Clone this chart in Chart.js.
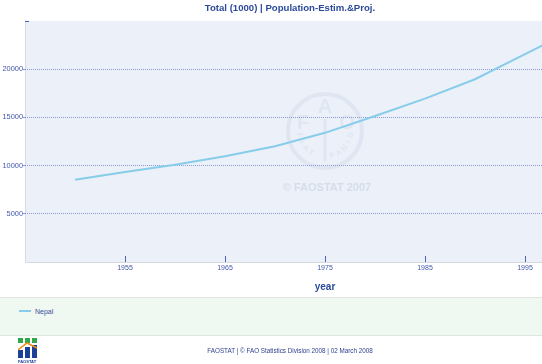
<!DOCTYPE html>
<html>
<head>
<meta charset="utf-8">
<script src="https://cdn.jsdelivr.net/npm/chart.js@4/dist/chart.umd.min.js"></script>
<style>
  body { margin: 0; background: #fff; font-family: "Liberation Sans", Arial, sans-serif; }
  #wrap { position: relative; width: 542px; height: 364px; overflow: hidden; }
  #plot { position: absolute; left: 0; top: 0; width: 625px; height: 297px; }
  #title { position: absolute; left: 0; top: 2px; width: 580px; text-align: center;
    font-size: 9.6px; font-weight: bold; color: #2b4a9c; }
  #legend { position: absolute; left: 0; top: 297px; width: 542px; height: 37px;
    background: #eff8f1; border-top: 1px solid #dfe5e0; border-bottom: 1px solid #dfe5e0; }
  #legend .item { position: absolute; left: 19px; top: 10px; font-size: 7px; color: #3a4fa0; }
  #legend .swatch { display: inline-block; width: 12px; height: 2px; background: #87cdea;
    vertical-align: middle; margin-right: 4px; position: relative; top: -1px; }
  #footer { position: absolute; left: 0; top: 347px; width: 580px; text-align: center;
    font-size: 6.3px; color: #2d3f8c; }
  #logo { position: absolute; left: 18px; top: 338px; width: 20px; height: 25px; }
</style>
</head>
<body>
<div id="wrap">
  <div id="plot"><canvas id="chart"></canvas></div>
  <div id="title"></div>
  <div id="legend"><span class="item"><span class="swatch"></span><span id="legendLabel"></span></span></div>
  <canvas id="logo" width="20" height="25"></canvas>
  <div id="footer">FAOSTAT | © FAO Statistics Division 2008 | 02 March 2008</div>
</div>
<script>
const chartTitle = "Total (1000) | Population-Estim.&Proj.";
const seriesName = "Nepal";
const years = [1950, 1955, 1960, 1965, 1970, 1975, 1980, 1985, 1990, 1995, 2000];
const population = [8540, 9330, 10100, 10970, 12010, 13400, 15150, 16950, 18960, 21560, 24150];
const xTicks = [1955, 1965, 1975, 1985, 1995];
const yTicks = [5000, 10000, 15000, 20000];

const blue = "#4157aa";
const lineColor = "#87cdea";

document.getElementById("title").textContent = chartTitle;
document.getElementById("legendLabel").textContent = seriesName;

// plot background, x tick marks inside the area and the faint FAO watermark
const plotDecor = {
  id: "plotDecor",
  beforeDraw: (chart) => {
    const a = chart.chartArea;
    const ctx = chart.ctx;
    ctx.save();
    ctx.fillStyle = "#ebf0f9";
    ctx.fillRect(a.left, a.top, a.right - a.left, a.bottom - a.top);
    ctx.strokeStyle = "#d5d9e2";
    ctx.lineWidth = 1;
    ctx.beginPath();
    ctx.moveTo(a.left + 0.5, a.top);
    ctx.lineTo(a.left + 0.5, a.bottom + 0.5);
    ctx.lineTo(a.right, a.bottom + 0.5);
    ctx.stroke();
    ctx.strokeStyle = "#4a63b8";
    ctx.beginPath();
    ctx.moveTo(a.left, a.top + 0.5);
    ctx.lineTo(a.left + 4, a.top + 0.5);
    ctx.stroke();

    // watermark
    const cx = 325, cy = 131, r = 37;
    ctx.strokeStyle = "#dfe6f1";
    ctx.lineWidth = 4;
    ctx.beginPath();
    ctx.arc(cx, cy, r, 0, Math.PI * 2);
    ctx.stroke();
    ctx.fillStyle = "#dfe6f1";
    ctx.font = "bold 20px 'Liberation Sans'";
    ctx.textAlign = "center";
    ctx.textBaseline = "middle";
    ctx.fillText("F", cx - 22, cy - 8);
    ctx.fillText("A", cx, cy - 24);
    ctx.fillText("O", cx + 22, cy - 8);
    ctx.lineWidth = 3;
    ctx.beginPath();
    ctx.moveTo(cx, cy - 12);
    ctx.lineTo(cx, cy + 30);
    ctx.stroke();
    ctx.font = "bold 8px 'Liberation Sans'";
    const letters = "FIAT  PANIS".split("");
    letters.forEach((ch, i) => {
      const ang = Math.PI * 0.95 - i * (Math.PI * 0.9 / (letters.length - 1));
      ctx.save();
      ctx.translate(cx + Math.cos(ang) * 26, cy + Math.sin(ang) * 26);
      ctx.rotate(ang - Math.PI / 2);
      ctx.fillText(ch, 0, 0);
      ctx.restore();
    });
    ctx.font = "bold 11px 'Liberation Sans'";
    ctx.fillStyle = "#d6dcea";
    ctx.fillText("© FAOSTAT 2007", 327, 188);
    ctx.restore();
  },
  afterDatasetsDraw: (chart) => {
    const a = chart.chartArea;
    const x = chart.scales.x;
    const ctx = chart.ctx;
    ctx.save();
    ctx.strokeStyle = "#4a63b8";
    ctx.lineWidth = 1;
    xTicks.forEach((t) => {
      const px = Math.round(x.getPixelForValue(t)) + 0.5;
      ctx.beginPath();
      ctx.moveTo(px, a.bottom - 6);
      ctx.lineTo(px, a.bottom);
      ctx.stroke();
    });
    ctx.restore();
  },
};

new Chart(document.getElementById("chart"), {
  type: "line",
  plugins: [plotDecor],
  data: {
    datasets: [
      {
        label: seriesName,
        data: years.map((y, i) => ({ x: y, y: population[i] })),
        borderColor: lineColor,
        borderWidth: 2,
        pointRadius: 0,
        tension: 0,
        fill: false,
      },
    ],
  },
  options: {
    responsive: true,
    maintainAspectRatio: false,
    animation: false,
    layout: { padding: { top: 21, right: 0, left: 0, bottom: 0 } },
    plugins: {
      legend: { display: false },
      tooltip: { enabled: false },
      title: { display: false },
    },
    scales: {
      x: {
        type: "linear",
        min: 1945,
        max: 2005,
        afterBuildTicks: (scale) => {
          scale.ticks = xTicks.map((v) => ({ value: v }));
        },
        afterFit: (scale) => {
          scale.height = 35;
        },
        grid: { display: false, drawTicks: false },
        border: { display: false },
        ticks: {
          color: blue,
          padding: 2,
          maxRotation: 0,
          font: { family: "Liberation Sans", size: 7 },
          callback: (v) => String(v),
        },
        title: {
          display: true,
          text: "year",
          color: "#2b4a9c",
          font: { family: "Liberation Sans", size: 10, weight: "bold" },
          padding: { top: 4, bottom: 4 },
        },
      },
      y: {
        min: 0,
        max: 25000,
        afterBuildTicks: (scale) => {
          scale.ticks = yTicks.map((v) => ({ value: v }));
        },
        afterFit: (scale) => {
          scale.width = 25;
        },
        grid: {
          color: "#8a9ad2",
          lineWidth: 1,
          tickLength: 2,
        },
        border: { display: false, dash: [1, 1] },
        ticks: {
          color: blue,
          padding: 0,
          font: { family: "Liberation Sans", size: 7.4 },
          callback: (v) => String(v),
        },
      },
    },
  },
});

// small FAOSTAT logo
const lg = document.getElementById("logo").getContext("2d");
lg.fillStyle = "#2fa84a";
lg.fillRect(0, 0, 5, 5);
lg.fillRect(7, 0, 5, 5);
lg.fillRect(14, 0, 5, 5);
lg.fillStyle = "#1c3f9a";
lg.fillRect(0, 12, 5, 8);
lg.fillRect(7, 9, 5, 11);
lg.fillRect(14, 7, 5, 13);
lg.strokeStyle = "#f08a1c";
lg.lineWidth = 1.5;
lg.beginPath();
lg.moveTo(0, 12);
lg.lineTo(9, 5);
lg.lineTo(19, 10);
lg.stroke();
lg.fillStyle = "#1c3f9a";
lg.font = "bold 4px 'Liberation Sans'";
lg.fillText("FAOSTAT", 0, 25);
</script>
</body>
</html>
